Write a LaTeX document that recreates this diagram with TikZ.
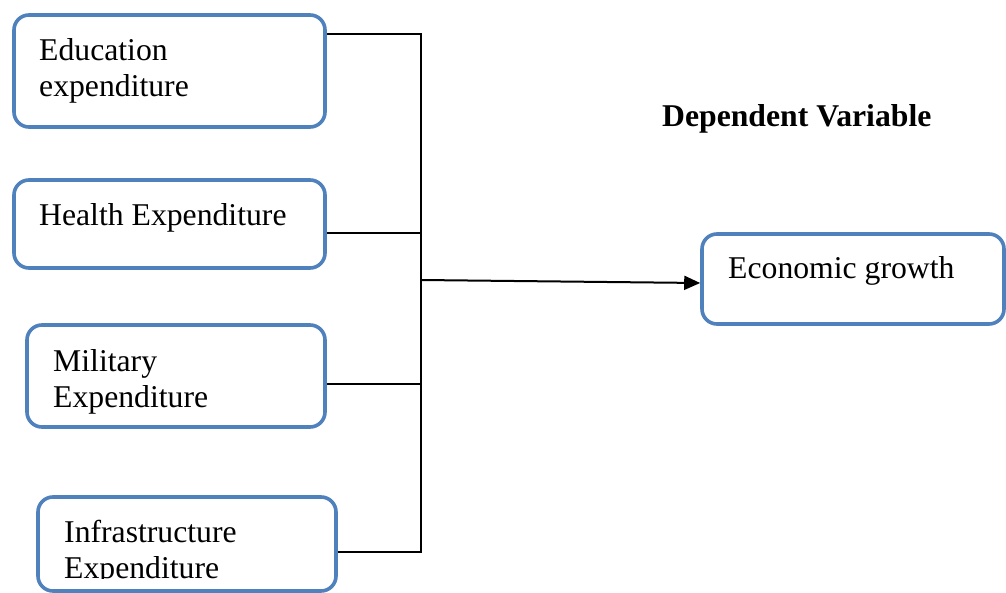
\documentclass[tikz,border=0pt]{standalone}
\usepackage{fontspec}
\setmainfont{Liberation Serif}
\usetikzlibrary{arrows.meta}
\definecolor{boxblue}{HTML}{4F81BD}
\begin{document}
\begin{tikzpicture}[x=1pt,y=-1pt,
  box/.style={draw=boxblue,line width=3.6pt,rounded corners=15pt,fill=white,inner sep=0pt},
  lbl/.style={anchor=base west,inner sep=0pt,align=left,font=\fontsize{31.7}{36}\selectfont},
  conn/.style={draw=black,line width=1.7pt}]
\clip (0,0) rectangle (1006,593);
\fill[white] (0,0) rectangle (1006,593);
% boxes
\node[box,minimum width=311pt,minimum height=112pt] (edu) at (169.5,71) {};
\node[box,minimum width=311pt,minimum height=88pt] (hea) at (169.5,224) {};
\node[box,minimum width=298pt,minimum height=102pt] (mil) at (176,376) {};
\node[box,minimum width=298pt,minimum height=94pt] (inf) at (187,544) {};
\node[box,minimum width=302pt,minimum height=90pt] (eco) at (853,279) {};
% texts (base anchor = baseline of last line)
\node[lbl] (tedu) at (39,97) {Education\\expenditure};
\node[lbl] (thea) at (39,226) {Health Expenditure};
\node[lbl] (tmil) at (53,407) {Military\\Expenditure};
\begin{scope}
\clip (40,500) rectangle (330,578);
\node[lbl] (tinf) at (64,578) {Infrastructure\\Expenditure};
\end{scope}
\node[lbl] (teco) at (728,279) {Economic growth};
\node[lbl,font=\fontsize{31.7}{36}\selectfont\bfseries] (tdep) at (662,127) {Dependent Variable};
% bus
\coordinate (b1) at (421,34);
\coordinate (b2) at (421,233);
\coordinate (b3) at (421,384);
\coordinate (b4) at (421,552);
\coordinate (j) at (421,280);
\draw[conn] (b1 -| edu.east) -- (b1);
\draw[conn] (b2 -| hea.east) -- (b2);
\draw[conn] (b3 -| mil.east) -- (b3);
\draw[conn] (b4 -| inf.east) -- (b4);
\draw[conn] ([yshift=0.85pt]b1) -- ([yshift=-0.85pt]b4);
\draw[conn,line width=2pt,-{Triangle[length=16pt,width=14pt]}] (j) -- ([yshift=-4pt]eco.west);
\end{tikzpicture}
\end{document}
